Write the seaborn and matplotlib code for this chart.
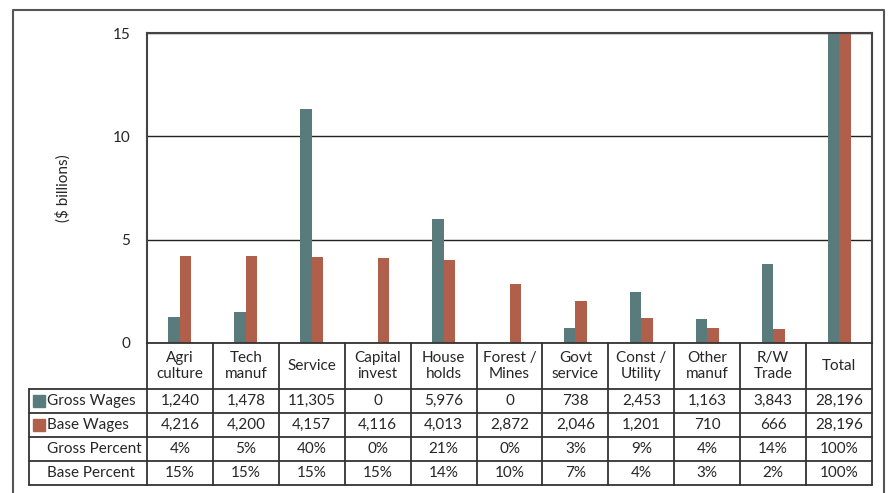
import numpy as np
import pandas as pd
import matplotlib
matplotlib.use('Agg')
import matplotlib.pyplot as plt
from matplotlib.patches import Rectangle
import seaborn as sns

# Data
sectors = ['Agri\nculture', 'Tech\nmanuf', 'Service', 'Capital\ninvest', 'House\nholds',
           'Forest /\nMines', 'Govt\nservice', 'Const /\nUtility', 'Other\nmanuf', 'R/W\nTrade', 'Total']
gross_wages = [1240, 1478, 11305, 0, 5976, 0, 738, 2453, 1163, 3843, 28196]
base_wages = [4216, 4200, 4157, 4116, 4013, 2872, 2046, 1201, 710, 666, 28196]
gross_pct = ['4%', '5%', '40%', '0%', '21%', '0%', '3%', '9%', '4%', '14%', '100%']
base_pct = ['15%', '15%', '15%', '15%', '14%', '10%', '7%', '4%', '3%', '2%', '100%']

teal = '#5a7b7b'
rust = '#b0604a'
line_col = '#333333'

sns.set_style('white')
plt.rcParams['font.family'] = ['Lato', 'DejaVu Sans']

W, H = 888, 493
fig = plt.figure(figsize=(W / 100, H / 100), dpi=100)

# Main bar axes (pixel layout)
x0, x1, y_top, y_zero = 147, 872, 33, 343
ax = fig.add_axes([x0 / W, (H - y_zero) / H, (x1 - x0) / W, (y_zero - y_top) / H])

df = pd.DataFrame({
    'sector': sectors * 2,
    'series': ['Gross Wages'] * len(sectors) + ['Base Wages'] * len(sectors),
    'value': [v / 1000 for v in gross_wages] + [v / 1000 for v in base_wages],
})
sns.barplot(data=df, x='sector', y='value', hue='series', palette=[teal, rust],
            width=0.35, ax=ax, legend=False, saturation=1, linewidth=0)

fs = 11
ax.set_ylim(0, 15)
ax.set_xlim(-0.5, len(sectors) - 0.5)
ax.set_yticks([0, 5, 10, 15])
ax.set_yticklabels(['0', '5', '10', '15'], fontsize=fs)
ax.tick_params(axis='y', length=0, pad=12)
ax.set_xticks([])
ax.set_xlabel('')
ax.set_ylabel('($ billions)', fontsize=fs, labelpad=30)
ax.yaxis.grid(True, color='#222222', linewidth=1)
ax.set_axisbelow(True)
for side in ['left', 'top', 'right']:
    ax.spines[side].set_color('#444444')
    ax.spines[side].set_linewidth(1.5)
ax.spines['bottom'].set_visible(False)

# Overlay axes in pixel coordinates for the table and frame
ov = fig.add_axes([0, 0, 1, 1], zorder=5)
ov.set_xlim(0, W)
ov.set_ylim(H, 0)
ov.axis('off')
ov.patch.set_alpha(0)

# Outer frame
ov.plot([13, 13, 884, 884], [H + 5, 10, 10, H + 5], color='#555555', lw=1.5, clip_on=False)

n = len(sectors)
col_w = (x1 - x0) / n
col_edges = [x0 + i * col_w for i in range(n + 1)]
label_x = 29
row_edges = [343, 389, 413, 437, 461, 485]

# Horizontal lines
ov.plot([x0, x1], [row_edges[0], row_edges[0]], color=line_col, lw=1.3)
for y in row_edges[1:]:
    ov.plot([label_x, x1], [y, y], color=line_col, lw=1.3)
# Vertical lines
for x in col_edges:
    ov.plot([x, x], [row_edges[0], row_edges[-1]], color=line_col, lw=1.3)
ov.plot([label_x, label_x], [row_edges[1], row_edges[-1]], color=line_col, lw=1.3)

# Header
for i, name in enumerate(sectors):
    cx = (col_edges[i] + col_edges[i + 1]) / 2
    ov.text(cx, (row_edges[0] + row_edges[1]) / 2, name, ha='center', va='center',
            fontsize=fs, linespacing=1.1)

rows = [
    ('Gross Wages', [f'{v:,}' for v in gross_wages], teal),
    ('Base Wages', [f'{v:,}' for v in base_wages], rust),
    ('Gross Percent', gross_pct, None),
    ('Base Percent', base_pct, None),
]
for r, (label, vals, color) in enumerate(rows):
    yc = (row_edges[r + 1] + row_edges[r + 2]) / 2
    if color is not None:
        ov.add_patch(Rectangle((33, yc - 6), 12, 12, color=color))
    ov.text(47, yc, label, ha='left', va='center', fontsize=fs)
    for i, v in enumerate(vals):
        cx = (col_edges[i] + col_edges[i + 1]) / 2
        ov.text(cx, yc, v, ha='center', va='center', fontsize=fs)

fig.savefig('out.png', dpi=100)
